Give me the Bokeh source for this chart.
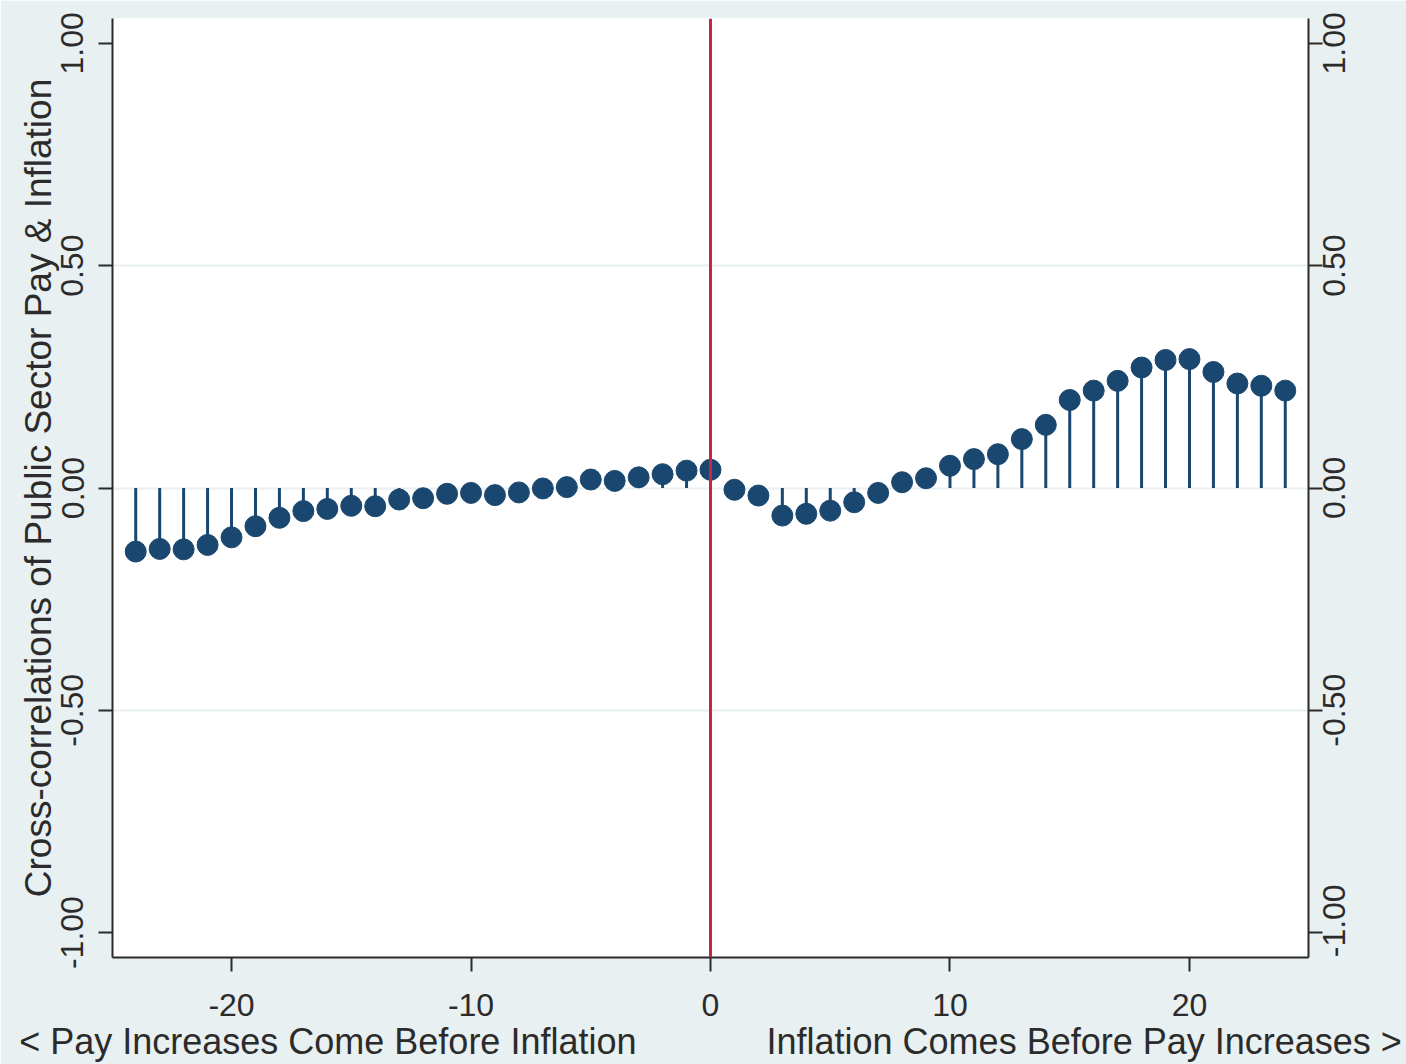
from bokeh.plotting import figure
from bokeh.models import (LinearAxis, Range1d, FixedTicker, Span, Grid,
                          ColumnDataSource)
from bokeh.embed import file_html
from bokeh.resources import INLINE

lags = list(range(-24, 25))
xcorr = [-0.143, -0.137, -0.138, -0.128, -0.111, -0.086, -0.067, -0.052, -0.047,
         -0.040, -0.041, -0.026, -0.023, -0.013, -0.011, -0.016, -0.010, -0.001,
         0.002, 0.019, 0.016, 0.024, 0.031, 0.039, 0.041,
         -0.004, -0.017, -0.062, -0.058, -0.051, -0.032, -0.011, 0.013, 0.022,
         0.050, 0.065, 0.076, 0.110, 0.142, 0.198, 0.219, 0.241, 0.271, 0.288,
         0.290, 0.261, 0.235, 0.230, 0.219]
x_ticks = [-20, -10, 0, 10, 20]
x_tick_labels = {-20: "-20", -10: "-10", 0: "0", 10: "10", 20: "20"}
y_ticks = [-1.0, -0.5, 0.0, 0.5, 1.0]
y_tick_text = ["-1.00", "-0.50", "0.00", "0.50", "1.00"]
y_title = "Cross-correlations of Public Sector Pay & Inflation"
x_title_left = "< Pay Increases Come Before Inflation"
x_title_right = "Inflation Comes Before Pay Increases >"

BG = "#e9f0f2"
NAVY = "#1a476f"
RED = "#cc2244"
AX = "#2b2b2b"
FONT = "Liberation Sans"
TICK_FS = 32
Y0, Y1 = -1.056, 1.056
FRAME_TOP, FRAME_BOTTOM = 18, 105
H = 1064

src = ColumnDataSource(dict(lag=lags, r=xcorr, zero=[0.0] * len(lags)))

p = figure(width=1406, height=H, output_backend="svg", toolbar_location=None,
           x_range=Range1d(-24.97, 24.97), y_range=Range1d(Y0, Y1),
           y_axis_location=None, x_axis_location=None,
           background_fill_color="white", border_fill_color=BG,
           min_border_left=112, min_border_right=98, min_border_top=FRAME_TOP,
           min_border_bottom=FRAME_BOTTOM)
p.outline_line_color = None
p.xgrid.visible = False
p.ygrid.visible = False

g = Grid(dimension=1, ticker=FixedTicker(ticks=[-0.5, 0.0, 0.5]),
         grid_line_color=BG, grid_line_width=2)
p.add_layout(g)

def style_axis(ax):
    ax.major_label_text_font = FONT
    ax.major_label_text_font_size = f"{TICK_FS}px"
    ax.major_label_text_color = AX
    ax.axis_line_color = AX
    ax.axis_line_width = 2
    ax.major_tick_line_color = AX
    ax.major_tick_line_width = 2
    ax.major_tick_out = 14
    ax.major_tick_in = 0
    ax.minor_tick_line_color = None
    ax.axis_label_text_font = FONT
    ax.axis_label_text_font_style = "normal"
    ax.axis_label_text_color = AX

# left axis
yl = LinearAxis()
style_axis(yl)
yl.ticker = FixedTicker(ticks=y_ticks)
yl.major_label_overrides = dict(zip(y_ticks, y_tick_text))
yl.major_label_orientation = "vertical"
yl.major_label_standoff = 15
yl.axis_label = y_title
yl.axis_label_text_font_size = "37px"
yl.axis_label_standoff = 0
p.add_layout(yl, "left")

# right axis: line + ticks only
yr = LinearAxis()
style_axis(yr)
yr.ticker = FixedTicker(ticks=y_ticks)
yr.major_label_overrides = {t: "" for t in y_ticks}
yr.major_label_text_font_size = "1px"
yr.major_label_standoff = 0
p.add_layout(yr, "right")

# right axis labels, rotated to read bottom-to-top and centred on each tick
EM = {"-": 0.333, ".": 0.278, "0": 0.556, "1": 0.556, "5": 0.556}
px_per_unit = (H - FRAME_TOP - FRAME_BOTTOM) / (Y1 - Y0)
shifted = []
for t, s in zip(y_ticks, y_tick_text):
    half_len = 0.5 * sum(EM[c] for c in s) * TICK_FS
    shifted.append(round(max(t - half_len / px_per_unit, Y0 + 0.0005), 5))
yr2 = LinearAxis()
style_axis(yr2)
yr2.ticker = FixedTicker(ticks=shifted)
yr2.major_label_overrides = dict(zip(shifted, y_tick_text))
yr2.major_label_orientation = 1.5707963267948966
yr2.axis_line_color = None
yr2.major_tick_line_color = None
yr2.major_tick_out = 0
yr2.major_label_standoff = 12
p.add_layout(yr2, "right")

xa = LinearAxis()
style_axis(xa)
xa.ticker = FixedTicker(ticks=x_ticks)
xa.major_label_overrides = x_tick_labels
xa.major_label_standoff = 22
xa.axis_label = x_title_left + "\u00a0" * 13 + x_title_right
xa.axis_label_text_font_size = "36px"
xa.axis_label_standoff = 2
p.add_layout(xa, "below")

p.add_layout(Span(location=0, dimension="height", line_color=RED, line_width=3))

p.segment(x0="lag", y0="zero", x1="lag", y1="r", source=src,
          line_color=NAVY, line_width=3)
p.scatter(x="lag", y="r", source=src, size=21, fill_color=NAVY,
          line_color=NAVY, marker="circle")

open("out.html", "w").write(file_html(p, INLINE))
